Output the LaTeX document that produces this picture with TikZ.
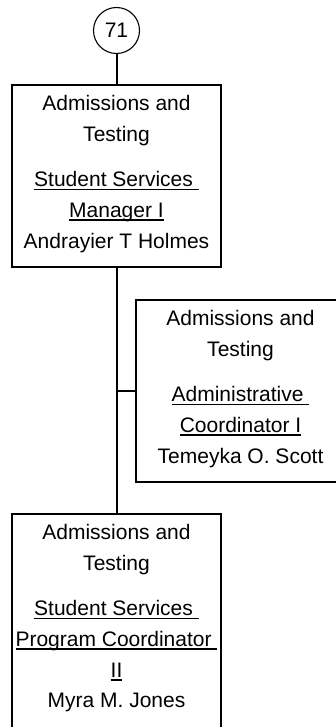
\documentclass[tikz,border=0pt]{standalone}
\usepackage{fontspec}
\setmainfont{Liberation Sans}
\newcommand\uln[1]{\setbox0\hbox{#1}\rlap{\rule[-3.6pt]{\wd0}{1.5pt}}\box0}
\tikzset{
  orgbox/.style={draw=black, line width=2pt, fill=white, minimum width=209pt, inner sep=0pt},
  orgtxt/.style={align=center, inner sep=0pt, anchor=north, font=\fontsize{21}{30.8}\selectfont},
  conn/.style={draw=black, line width=2pt},
  numcirc/.style={circle, draw=black, line width=1.1pt, minimum size=46pt, inner sep=0pt, font=\fontsize{21}{24}\selectfont}
}
\begin{document}
\begin{tikzpicture}[x=1pt,y=-1pt]
\useasboundingbox (0,0) rectangle (336,727);
\clip (0,0) rectangle (336,727);
\node[numcirc] (c) at (116.5,30.5) {71};
\node[orgbox, minimum height=182pt] (b1) at (116.5,176) {};
\node[orgbox, minimum height=182pt] (b2) at (240.5,391) {};
\node[orgbox, minimum height=216pt] (b3) at (116.5,622) {};
\draw[conn] (c.south) -- (b1.north);
\draw[conn] (b1.south) -- (b3.north);
\draw[conn] (b2.west) -- (b2.west -| b1.south);
\node[orgtxt] (t1) at ([yshift=-11.5pt]b1.north) {Admissions and\\Testing\\[14pt]\uln{Student Services\ }\\\uln{Manager I}\\Andrayier T Holmes};
\node[orgtxt] (t2) at ([yshift=-11.5pt]b2.north) {Admissions and\\Testing\\[14pt]\uln{Administrative\ }\\\uln{Coordinator I}\\Temeyka O. Scott};
\node[orgtxt] (t3) at ([yshift=-11.5pt]b3.north) {Admissions and\\Testing\\[14pt]\uln{Student Services\ }\\\uln{Program Coordinator\ }\\\uln{II}\\Myra M. Jones};
\end{tikzpicture}
\end{document}
